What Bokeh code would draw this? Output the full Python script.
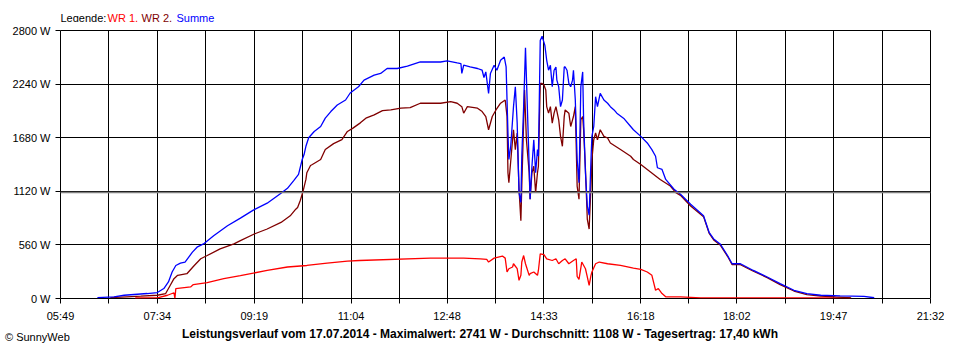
from bokeh.plotting import figure
from bokeh.models import FixedTicker, Span, Range1d, Div
from bokeh.layouts import column
from bokeh.core.properties import value
from bokeh.embed import file_html
from bokeh.resources import INLINE

# ---------------- data ----------------
x_tick_labels = ["05:49", "07:34", "09:19", "11:04", "12:48",
                 "14:33", "16:18", "18:02", "19:47", "21:32"]
y_ticks = [0, 560, 1120, 1680, 2240, 2800]
average_w = 1108
legend_names = ["WR 1,", "WR 2,", "Summe"]
title_text = ("Leistungsverlauf vom 17.07.2014 - Maximalwert: 2741 W - "
              "Durchschnitt: 1108 W - Tagesertrag: 17,40 kWh")
credit_text = "\u00a9 SunnyWeb"

sum_time = ["06:29", "06:47", "06:58", "07:23", "07:34", "07:41", "07:46", "07:50", "07:54", "07:59",
            "08:04", "08:12", "08:17", "08:24", "08:35", "08:50", "09:04", "09:18", "09:33", "09:48",
            "09:55", "10:02", "10:07", "10:11", "10:13", "10:15", "10:18", "10:24", "10:31", "10:36",
            "10:42", "10:49", "10:58", "11:03", "11:12", "11:18", "11:29", "11:36", "11:43", "11:54",
            "12:05", "12:19", "12:30", "12:41", "12:48", "12:59", "13:03", "13:04", "13:06", "13:13",
            "13:21", "13:26", "13:28", "13:30", "13:33", "13:35", "13:39", "13:42", "13:46", "13:50",
            "13:52", "13:54", "13:55", "13:57", "14:00", "14:02", "14:04", "14:06", "14:08", "14:09",
            "14:11", "14:13", "14:15", "14:17", "14:18", "14:20", "14:22", "14:24", "14:26", "14:27",
            "14:29", "14:31", "14:34", "14:36", "14:38", "14:40", "14:42", "14:44", "14:46", "14:47",
            "14:49", "14:51", "14:53", "14:55", "14:56", "14:58", "15:00", "15:02", "15:04", "15:05",
            "15:07", "15:09", "15:11", "15:13", "15:15", "15:16", "15:18", "15:20", "15:22", "15:24",
            "15:25", "15:27", "15:29", "15:31", "15:34", "15:38", "15:42", "15:45", "15:49", "15:52",
            "16:00", "16:07", "16:10", "16:18", "16:25", "16:30", "16:34", "16:36", "16:41", "16:45",
            "16:54", "17:01", "17:12", "17:26", "17:32", "17:37", "17:44", "17:52", "17:57", "18:06",
            "18:20", "18:35", "18:49", "19:04", "19:18", "19:33", "19:54", "20:20", "20:31"]
sum_watt = [10, 18, 34, 52, 62, 104, 173, 277, 345, 370,
            381, 484, 536, 570, 656, 760, 840, 923, 996, 1099,
            1151, 1234, 1296, 1452, 1504, 1590, 1680, 1745, 1797, 1884,
            1953, 2022, 2074, 2147, 2212, 2281, 2333, 2351, 2403, 2403,
            2427, 2471, 2471, 2471, 2482, 2461, 2455, 2351, 2437, 2419,
            2403, 2385, 2309, 2367, 2143, 2351, 2437, 2385, 2489, 2523,
            2419, 1729, 1452, 1590, 2004, 2212, 1832, 1106, 1003, 1486,
            2004, 2620, 2004, 1382, 1037, 1382, 1659, 1314, 1556, 1486,
            2696, 2741, 2644, 2489, 2385, 2437, 2212, 2385, 2419, 2281,
            2212, 2004, 2074, 2419, 2419, 2385, 2247, 2212, 2281, 2385,
            2074, 1452, 1210, 2212, 2367, 1867, 1314, 968, 871, 1452,
            1694, 1797, 2108, 2004, 2143, 2074, 2040, 2004, 1970, 1936,
            1877, 1797, 1763, 1694, 1625, 1556, 1486, 1366, 1348, 1244,
            1141, 1089, 985, 864, 692, 622, 570, 449, 363, 363,
            293, 225, 156, 86, 52, 34, 28, 22, 8]

wr2_time = ["06:43", "07:01", "07:16", "07:34", "07:43", "07:48", "07:52", "07:56", "08:06", "08:14",
            "08:21", "08:28", "08:42", "08:57", "09:04", "09:19", "09:33", "09:48", "09:58", "10:04",
            "10:06", "10:09", "10:12", "10:15", "10:16", "10:20", "10:22", "10:31", "10:36", "10:45",
            "10:54", "11:00", "11:06", "11:14", "11:20", "11:29", "11:38", "11:47", "11:58", "12:08",
            "12:19", "12:30", "12:41", "12:52", "12:59", "13:04", "13:06", "13:10", "13:21", "13:26",
            "13:30", "13:33", "13:37", "13:41", "13:46", "13:51", "13:53", "13:54", "13:55", "13:59",
            "14:00", "14:02", "14:04", "14:06", "14:08", "14:09", "14:12", "14:14", "14:17", "14:18",
            "14:20", "14:22", "14:24", "14:26", "14:27", "14:29", "14:31", "14:33", "14:35", "14:36",
            "14:38", "14:40", "14:42", "14:44", "14:46", "14:49", "14:51", "14:53", "14:55", "14:56",
            "15:00", "15:02", "15:04", "15:05", "15:07", "15:09", "15:11", "15:13", "15:15", "15:16",
            "15:18", "15:20", "15:22", "15:24", "15:25", "15:27", "15:29", "15:31", "15:34", "15:38",
            "15:42", "15:45", "15:56", "16:07", "16:10", "16:18", "16:25", "16:39", "16:50", "16:56",
            "17:01", "17:12", "17:26", "17:32", "17:37", "17:44", "17:52", "17:57", "18:06", "18:20",
            "18:35", "18:49", "19:04", "19:18", "19:33", "19:49", "20:06"]
wr2_watt = [10, 18, 24, 34, 52, 138, 207, 242, 259, 345,
            415, 449, 518, 570, 605, 674, 726, 795, 864, 933,
            951, 1027, 1125, 1244, 1314, 1390, 1400, 1452, 1556, 1618,
            1659, 1745, 1780, 1835, 1884, 1918, 1963, 1970, 1988, 1994,
            2040, 2040, 2040, 2056, 2040, 2004, 1936, 2004, 1988, 1953,
            1901, 1763, 1901, 1970, 2040, 2074, 1901, 1314, 1210, 1659,
            1763, 1556, 1729, 1141, 812, 1175, 2178, 1659, 1314, 1037,
            1314, 1382, 1106, 1314, 1382, 2247, 2247, 2230, 2178, 2004,
            1936, 2004, 1832, 1936, 2004, 1867, 1694, 1590, 1901, 1970,
            1936, 1797, 1867, 1901, 2004, 1175, 1037, 1867, 1901, 1763,
            1348, 830, 726, 1175, 1452, 1659, 1729, 1659, 1763, 1694,
            1677, 1625, 1556, 1486, 1452, 1400, 1348, 1244, 1175, 1106,
            1078, 967, 855, 684, 612, 560, 441, 353, 353, 285,
            218, 145, 78, 41, 26, 16, 7]

wr1_time = ["07:10", "07:34", "07:45", "07:52", "07:53", "07:54", "08:10", "08:13", "08:28", "08:46",
            "09:04", "09:11", "09:33", "09:55", "10:16", "10:38", "11:00", "11:13", "12:30", "13:06",
            "13:24", "13:31", "13:33", "13:39", "13:48", "13:51", "13:53", "13:55", "13:59", "14:00",
            "14:04", "14:06", "14:08", "14:09", "14:11", "14:13", "14:17", "14:18", "14:22", "14:26",
            "14:27", "14:29", "14:33", "14:36", "14:42", "14:46", "14:49", "14:53", "14:56", "15:00",
            "15:05", "15:08", "15:09", "15:11", "15:14", "15:18", "15:20", "15:22", "15:24", "15:25",
            "15:29", "15:33", "15:42", "15:56", "16:10", "16:18", "16:25", "16:30", "16:34", "16:37",
            "16:41", "16:45", "17:01", "17:23", "20:05"]
wr1_watt = [5, 7, 34, 60, 0, 104, 121, 145, 166, 207,
            238, 252, 293, 329, 345, 370, 391, 397, 422, 422,
            415, 408, 381, 422, 443, 422, 277, 311, 329, 363,
            311, 190, 242, 381, 449, 363, 242, 259, 277, 242,
            293, 467, 459, 415, 397, 415, 363, 397, 415, 363,
            397, 415, 230, 200, 381, 311, 225, 138, 242, 277,
            363, 381, 363, 345, 318, 304, 277, 242, 86, 104,
            52, 18, 18, 7, 7]

COL_WR1 = "#ff0000"
COL_WR2 = "#800000"
COL_SUM = "#0000ff"
FONT = "Liberation Sans"
W = 944
LEFT, RIGHT = 60, 14          # borders of the plot frame (frame spans 60..930 px)


def to_min(s):
    h, m = s.split(":")
    return int(h) * 60 + int(m)


label_pos = [to_min(s) for s in x_tick_labels]
x_ticks = []
overrides = {}
for i, pos in enumerate(label_pos):
    x_ticks.append(pos)
    overrides[pos] = x_tick_labels[i]
    if i + 1 < len(label_pos):
        mid = (pos + label_pos[i + 1]) / 2
        x_ticks.append(mid)
        overrides[mid] = ""

# ---------------- legend strip (frame aligned with main frame, pixel-scaled range) ----------------
leg = figure(width=W, height=22, output_backend="svg", toolbar_location=None,
             x_range=Range1d(LEFT, W - RIGHT), y_range=Range1d(0, 22),
             x_axis_type=None, y_axis_type=None,
             min_border_left=LEFT, min_border_right=RIGHT, min_border_top=0, min_border_bottom=0,
             background_fill_color="white", border_fill_color="white")
leg.outline_line_color = None
leg.text(x=[60], y=[5], text=["Legende:"], text_color="black", text_font=value(FONT),
         text_font_size="11px", text_baseline="middle", text_align="left")
leg.text(x=[107, 141, 176], y=[5, 5, 5], text=legend_names,
         text_color=[COL_WR1, COL_WR2, COL_SUM], text_font=value(FONT),
         text_font_size="11px", text_baseline="middle", text_align="left")

# ---------------- main chart ----------------
p = figure(width=W, height=302, output_backend="svg", toolbar_location=None,
           x_range=Range1d(label_pos[0], label_pos[-1]),
           y_range=Range1d(y_ticks[0], y_ticks[-1]),
           min_border_left=LEFT, min_border_right=RIGHT, min_border_top=8, min_border_bottom=24,
           background_fill_color="white", border_fill_color="white")
p.outline_line_color = "black"
p.outline_line_width = 1
p.outline_line_alpha = 1

p.xaxis.ticker = FixedTicker(ticks=x_ticks)
p.xaxis.major_label_overrides = overrides
p.yaxis.ticker = FixedTicker(ticks=y_ticks)
p.yaxis.major_label_overrides = {v: f"{v} W" for v in y_ticks}
for ax in (p.xaxis[0], p.yaxis[0]):
    ax.axis_line_color = None
    ax.major_tick_out = 5
    ax.major_tick_in = 0
    ax.major_tick_line_color = "black"
    ax.minor_tick_line_color = None
    ax.major_label_text_font = FONT
    ax.major_label_text_font_size = "11px"
    ax.major_label_text_color = "black"
    ax.major_label_standoff = 5
p.xaxis.major_label_standoff = 6

p.xgrid.ticker = FixedTicker(ticks=x_ticks)
p.ygrid.ticker = FixedTicker(ticks=y_ticks)
for g in (p.xgrid[0], p.ygrid[0]):
    g.grid_line_color = "black"
    g.grid_line_alpha = 1
    g.grid_line_width = 1

p.add_layout(Span(location=average_w, dimension="width", line_color="#808080", line_width=1.5))

p.line([to_min(t) for t in wr1_time], wr1_watt, line_color=COL_WR1, line_width=1.3)
p.line([to_min(t) for t in wr2_time], wr2_watt, line_color=COL_WR2, line_width=1.3)
p.line([to_min(t) for t in sum_time], sum_watt, line_color=COL_SUM, line_width=1.3)

# ---------------- bottom texts ----------------
bottom_html = (
    f'<div style="position:relative;width:{W}px;height:20px;margin:0;padding:0;'
    f'font-family:\'{FONT}\';color:black;overflow:visible;">'
    f'<span style="position:absolute;left:480px;top:3px;transform:translateX(-50%);'
    f'white-space:nowrap;font-size:12px;line-height:14px;font-weight:bold;">{title_text}</span>'
    f'<span style="position:absolute;left:5px;top:7px;white-space:nowrap;'
    f'font-size:11px;line-height:13px;">{credit_text}</span>'
    '</div>'
)
bottom = Div(text=bottom_html, width=W, height=20, margin=(0, 0, 0, 0))

layout = column(leg, p, bottom, spacing=0)
open("out.html", "w").write(file_html(layout, INLINE))
